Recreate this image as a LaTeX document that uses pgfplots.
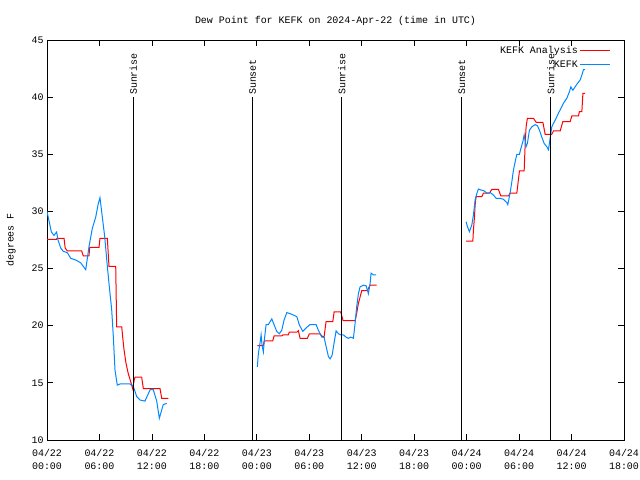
\documentclass[border=0pt]{standalone}
\usepackage{fontspec}
\setmainfont{Liberation Mono}
\usepackage{pgfplots}
\pgfplotsset{compat=1.18}
\definecolor{kred}{RGB}{255,0,0}
\definecolor{kblue}{RGB}{0,136,255}
\begin{document}
\fontsize{10}{12}\selectfont
\begin{tikzpicture}
\path[use as bounding box] (0,0) rectangle (640bp,480bp);
\begin{axis}[
  at={(47bp,40bp)}, anchor=south west,
  scale only axis, width=577bp, height=400bp,
  xmin=0, xmax=66, ymin=10, ymax=45,
  xtick={0,6,...,66},
  xticklabels={{04/22\\00:00},{04/22\\06:00},{04/22\\12:00},{04/22\\18:00},{04/23\\00:00},{04/23\\06:00},{04/23\\12:00},{04/23\\18:00},{04/24\\00:00},{04/24\\06:00},{04/24\\12:00},{04/24\\18:00}},
  ytick={10,15,...,45},
  tick align=inside,
  major tick length=6bp,
  tick style={black, line width=0.8bp},
  axis line style={line width=0.8bp},
  x tick label style={align=center, font=\fontsize{10}{13}\selectfont, yshift=-6bp},
  y tick label style={font=\fontsize{10}{12}\selectfont},
  /pgf/number format/assume math mode=true,
  title={Dew Point for KEFK on 2024-Apr-22 (time in UTC)},
  title style={at={(0.5,1)}, anchor=south, yshift=5bp, font=\fontsize{10}{12}\selectfont},
  ylabel={degrees F},
  ylabel style={at={(axis description cs:-0.048,0.5)}, anchor=south, font=\fontsize{10}{12}\selectfont},
  unbounded coords=jump,
  legend style={draw=none, fill=none, at={(1,1)}, anchor=north east, xshift=-10bp, yshift=-2bp, font=\fontsize{10}{12}\selectfont, row sep=2bp},
  legend cell align=right,
  legend plot pos=right,
  legend image code/.code={\draw[#1] (0bp,0bp) -- (30bp,0bp);},
]
\addplot[kred, line width=1bp] coordinates {
(0,27.55)(1.1,27.55)(1.12,27.65)(1.95,27.65)(2.08,26.8)(2.32,26.54)(3.97,26.54)(4.15,26.1)(4.8,26.1)(4.89,26.86)(5.95,26.86)(6.06,27.65)(6.9,27.65)(7.09,25.2)(7.86,25.2)(7.97,19.9)(8.55,19.9)(8.66,19.0)(8.81,17.9)(9.04,16.7)(9.3,15.8)(9.69,14.8)(9.8,14.5)(9.99,15.3)(10.07,15.5)(10.83,15.5)(11.02,14.5)(12.93,14.5)(13.12,13.65)(13.88,13.65)
(18,nan)
(24.06,18.25)(24.75,18.25)(24.85,18.67)(25.82,18.67)(25.97,19.1)(26.85,19.1)(27.0,19.2)(27.6,19.2)(27.72,19.43)(28.57,19.43)(28.75,19.57)(28.95,18.9)(29.78,18.9)(30.0,19.28)(31.24,19.28)(31.43,19.1)(31.69,19.0)(31.92,20.35)(32.69,20.35)(32.84,21.2)(33.6,21.2)(33.87,20.44)(35.24,20.44)(35.43,21.1)(35.62,21.96)(35.81,22.5)(36.0,23.07)(36.5,23.07)(36.65,23.1)(36.96,23.56)(37.7,23.56)
(42,nan)
(47.94,27.4)(48.71,27.4)(48.78,28.4)(48.9,29.54)(48.97,30.56)(49.08,31.3)(49.74,31.3)(49.92,31.6)(50.6,31.6)(50.88,31.93)(51.64,31.93)(51.91,31.35)(52.78,31.35)(52.97,31.6)(53.74,31.6)(53.92,32.75)(54.04,33.54)(54.58,33.54)(54.69,35.8)(54.8,37.4)(54.95,38.15)(55.64,38.15)(55.95,37.8)(56.72,37.8)(56.98,36.75)(57.74,36.75)(57.93,37.04)(58.7,37.04)(59.0,37.85)(59.84,37.85)(60.03,38.35)(60.79,38.35)(60.9,38.73)(61.18,38.73)(61.3,40.33)(61.56,40.33)
};
\addlegendentry{KEFK Analysis}
\addplot[kblue, line width=1bp] coordinates {
(0,30.0)(0.5,28.2)(0.8,27.9)(1.1,28.2)(1.26,27.5)(1.57,26.8)(1.87,26.5)(2.32,26.4)(2.71,25.9)(3.28,25.75)(3.86,25.5)(4.43,24.9)(4.8,26.9)(5.18,28.5)(5.57,29.5)(5.87,30.7)(6.06,31.2)(6.33,29.5)(6.6,27.8)(6.9,25.2)(7.17,23.1)(7.4,21.4)(7.59,19.0)(7.78,16.1)(8.04,14.8)(8.35,14.9)(9.5,14.9)(9.87,14.7)(10.26,13.8)(10.64,13.5)(11.2,13.4)(11.8,14.4)(12.16,14.4)(12.55,13.4)(12.85,11.9)(13.3,13.1)(13.7,13.2)
(18,nan)
(24.06,16.4)(24.18,17.6)(24.37,18.5)(24.49,19.2)(24.6,18.3)(24.75,17.7)(24.86,18.75)(25.06,20.1)(25.32,20.1)(25.71,20.6)(25.97,20.1)(26.28,19.5)(26.58,19.3)(26.85,19.6)(27.12,20.5)(27.43,21.15)(28.0,21.0)(28.57,20.8)(28.87,20.06)(29.26,19.5)(29.63,19.8)(30.09,20.1)(30.78,20.1)(31.04,19.6)(31.43,19.0)(31.69,19.0)(31.92,18.2)(32.19,17.3)(32.38,17.1)(32.61,17.4)(32.84,18.5)(33.07,19.55)(33.33,19.3)(33.6,19.2)(33.9,19.2)(34.2,19.0)(34.47,18.9)(34.75,19.0)(35.05,18.9)(35.24,20.2)(35.43,21.7)(35.62,22.8)(35.81,23.4)(36.19,23.55)(36.5,23.5)(36.65,23.1)(36.76,22.8)(36.96,23.7)(37.07,24.6)(37.33,24.45)(37.64,24.45)
(42,nan)
(47.94,29.1)(48.09,28.67)(48.32,28.23)(48.59,28.8)(48.78,29.7)(48.97,31.0)(49.23,31.73)(49.35,31.96)(49.62,31.88)(50.0,31.8)(50.31,31.6)(50.69,31.65)(51.06,31.44)(51.37,31.15)(51.83,31.15)(52.21,31.06)(52.6,30.77)(52.71,30.6)(52.97,31.6)(53.17,32.6)(53.35,33.6)(53.55,34.35)(53.74,35.0)(54.04,35.0)(54.2,35.5)(54.43,36.1)(54.58,36.7)(54.8,35.66)(54.95,35.96)(55.18,37.1)(55.46,37.4)(55.84,37.6)(56.1,37.5)(56.33,37.1)(56.6,36.5)(56.86,35.96)(57.17,35.66)(57.36,35.4)(57.55,36.4)(57.74,37.4)(57.93,37.7)(58.24,38.15)(58.5,38.6)(58.78,39.0)(59.07,39.46)(59.46,39.9)(59.76,40.48)(59.92,40.9)(60.15,40.6)(60.41,40.9)(60.67,41.2)(60.98,41.5)(61.17,41.9)(61.36,42.4)(61.56,42.4)
};
\addlegendentry{KEFK}
\addplot[black, line width=0.8bp, forget plot] coordinates {(9.87,10)(9.87,40)};
\addplot[black, line width=0.8bp, forget plot] coordinates {(23.53,10)(23.53,40)};
\addplot[black, line width=0.8bp, forget plot] coordinates {(33.72,10)(33.72,40)};
\addplot[black, line width=0.8bp, forget plot] coordinates {(47.45,10)(47.45,40)};
\addplot[black, line width=0.8bp, forget plot] coordinates {(57.63,10)(57.63,40)};
\node[rotate=90, anchor=west, inner sep=2bp] at (axis cs:9.87,40) {Sunrise};
\node[rotate=90, anchor=west, inner sep=2bp] at (axis cs:23.53,40) {Sunset};
\node[rotate=90, anchor=west, inner sep=2bp] at (axis cs:33.72,40) {Sunrise};
\node[rotate=90, anchor=west, inner sep=2bp] at (axis cs:47.45,40) {Sunset};
\node[rotate=90, anchor=west, inner sep=2bp] at (axis cs:57.63,40) {Sunrise};
\end{axis}
\end{tikzpicture}
\end{document}
